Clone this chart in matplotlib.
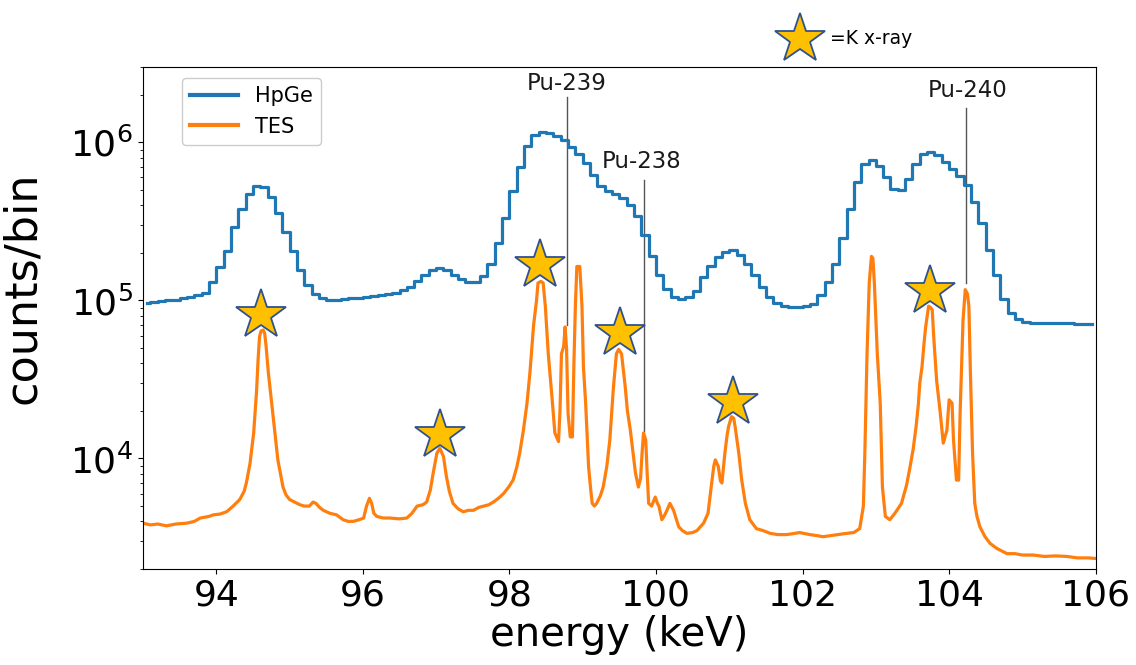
import matplotlib
matplotlib.use("Agg")
import matplotlib.pyplot as plt
from matplotlib.lines import Line2D
import numpy as np

BLUE = "#1f77b4"
ORANGE = "#ff7f0e"
STAR_FILL = "#FFC000"
STAR_EDGE = "#2F528F"

# HPGe spectrum: 0.1 keV bins starting at 93.0 keV
hpge_start = 93.0
hpge_bin = 0.1
hpge_counts = [
    9.7e4, 9.8e4, 9.9e4, 1.0e5, 1.01e5, 1.03e5, 1.05e5, 1.08e5, 1.12e5, 1.30e5,   # 93.0
    1.62e5, 2.05e5, 2.9e5, 3.8e5, 4.7e5, 5.3e5, 5.2e5, 4.5e5, 3.6e5, 2.7e5,       # 94.0
    2.05e5, 1.55e5, 1.25e5, 1.1e5, 1.03e5, 1.01e5, 1.01e5, 1.02e5, 1.03e5, 1.04e5,  # 95.0
    1.05e5, 1.06e5, 1.08e5, 1.10e5, 1.12e5, 1.16e5, 1.22e5, 1.32e5, 1.45e5, 1.55e5,  # 96.0
    1.60e5, 1.55e5, 1.45e5, 1.36e5, 1.31e5, 1.30e5, 1.42e5, 1.7e5, 2.3e5, 3.3e5,   # 97.0
    4.9e5, 7.0e5, 9.5e5, 1.12e6, 1.17e6, 1.15e6, 1.10e6, 1.03e6, 9.4e5, 8.5e5,     # 98.0
    7.4e5, 6.2e5, 5.3e5, 4.9e5, 4.7e5, 4.45e5, 4.0e5, 3.4e5, 2.6e5, 1.9e5,         # 99.0
    1.45e5, 1.18e5, 1.05e5, 1.02e5, 1.05e5, 1.15e5, 1.4e5, 1.65e5, 1.88e5, 2.03e5,  # 100.0
    2.07e5, 1.95e5, 1.7e5, 1.45e5, 1.22e5, 1.05e5, 9.6e4, 9.2e4, 9.1e4, 9.1e4,     # 101.0
    9.2e4, 9.5e4, 1.08e5, 1.3e5, 1.7e5, 2.5e5, 3.8e5, 5.6e5, 7.3e5, 7.7e5,         # 102.0
    7.1e5, 6.0e5, 5.1e5, 5.0e5, 5.9e5, 7.3e5, 8.4e5, 8.7e5, 8.3e5, 7.5e5,          # 103.0
    6.8e5, 6.1e5, 5.4e5, 4.2e5, 3.1e5, 2.1e5, 1.45e5, 1.02e5, 8.3e4, 7.6e4,        # 104.0
    7.35e4, 7.25e4, 7.2e4, 7.2e4, 7.15e4, 7.2e4, 7.15e4, 7.1e4, 7.1e4, 7.1e4,      # 105.0
]
hpge_energy = hpge_start + hpge_bin * (np.arange(len(hpge_counts)) + 0.5)

# TES spectrum (keV, counts/bin)
tes_energy = [
    93.00, 93.10, 93.20, 93.32, 93.45, 93.60, 93.70, 93.78, 93.90, 93.96,
    94.05, 94.14, 94.23, 94.32, 94.38, 94.41, 94.46, 94.51, 94.55, 94.57,
    94.59, 94.61, 94.64, 94.66, 94.68, 94.71, 94.75, 94.80, 94.84, 94.88,
    94.91, 94.95, 95.00, 95.07, 95.14, 95.20, 95.27, 95.32, 95.36, 95.41,
    95.46, 95.55, 95.64, 95.73, 95.80, 95.87, 95.95, 96.01, 96.05, 96.09,
    96.12, 96.15, 96.19, 96.28, 96.37, 96.50, 96.60, 96.67, 96.74, 96.82,
    96.87, 96.92, 96.96, 97.01, 97.05, 97.10, 97.14, 97.18, 97.23, 97.30,
    97.37, 97.44, 97.51, 97.58, 97.65, 97.72, 97.78, 97.85, 97.92, 97.99,
    98.05, 98.10, 98.14, 98.19, 98.24, 98.28, 98.33, 98.37, 98.39, 98.43,
    98.46, 98.49, 98.53, 98.58, 98.62, 98.67, 98.69, 98.71, 98.74, 98.76,
    98.78, 98.80, 98.83, 98.86, 98.88, 98.90, 98.92, 98.96, 98.99, 99.01,
    99.04, 99.06, 99.08, 99.11, 99.13, 99.16, 99.19, 99.24, 99.28, 99.33,
    99.37, 99.42, 99.46, 99.49, 99.53, 99.58, 99.61, 99.65, 99.69, 99.72,
    99.76, 99.79, 99.81, 99.83, 99.86, 99.88, 99.90, 99.94, 99.99, 100.02,
    100.04, 100.08, 100.12, 100.15, 100.19, 100.24, 100.28, 100.31, 100.36, 100.42,
    100.50, 100.56, 100.65, 100.71, 100.76, 100.79, 100.81, 100.85, 100.88, 100.90,
    100.94, 100.97, 100.99, 101.03, 101.06, 101.08, 101.13, 101.17, 101.22, 101.28,
    101.37, 101.46, 101.56, 101.66, 101.78, 101.88, 101.96, 102.03, 102.10, 102.20,
    102.28, 102.38, 102.47, 102.58, 102.70, 102.78, 102.83, 102.85, 102.88, 102.91,
    102.94, 102.96, 102.98, 103.02, 103.06, 103.09, 103.13, 103.19, 103.26, 103.30,
    103.35, 103.42, 103.47, 103.51, 103.55, 103.58, 103.60, 103.63, 103.66, 103.68,
    103.72, 103.75, 103.77, 103.79, 103.83, 103.88, 103.92, 103.97, 104.00, 104.04,
    104.06, 104.10, 104.13, 104.15, 104.19, 104.22, 104.25, 104.27, 104.29, 104.32,
    104.35, 104.38, 104.42, 104.49, 104.56, 104.65, 104.72, 104.79, 104.90, 105.00,
    105.15, 105.30, 105.45, 105.61, 105.75, 105.90, 106.00,
]
tes_counts = [
    3.9e3, 3.8e3, 3.85e3, 3.75e3, 3.85e3, 3.9e3, 4.0e3, 4.2e3, 4.3e3, 4.4e3,
    4.45e3, 4.6e3, 5.0e3, 5.5e3, 6.2e3, 7.0e3, 9.3e3, 1.45e4, 2.7e4, 4.2e4,
    5.9e4, 6.4e4, 6.5e4, 6.2e4, 5.1e4, 3.5e4, 2.35e4, 1.45e4, 9.8e3, 7.8e3,
    6.6e3, 5.9e3, 5.5e3, 5.3e3, 5.1e3, 5.0e3, 5.0e3, 5.3e3, 5.2e3, 4.9e3,
    4.7e3, 4.5e3, 4.4e3, 4.1e3, 4.0e3, 4.0e3, 4.1e3, 4.2e3, 5.0e3, 5.6e3,
    5.2e3, 4.5e3, 4.3e3, 4.2e3, 4.2e3, 4.15e3, 4.2e3, 4.5e3, 5.0e3, 5.1e3,
    5.3e3, 6.3e3, 8.1e3, 1.08e4, 1.16e4, 1.03e4, 7.7e3, 6.2e3, 5.2e3, 4.8e3,
    4.6e3, 4.7e3, 4.7e3, 4.9e3, 5.0e3, 5.1e3, 5.3e3, 5.6e3, 6.0e3, 6.6e3,
    7.3e3, 8.8e3, 1.08e4, 1.5e4, 2.24e4, 3.5e4, 7.0e4, 1.0e5, 1.29e5, 1.32e5,
    1.29e5, 9.2e4, 4.6e4, 2.47e4, 1.45e4, 1.28e4, 2.0e4, 4.6e4, 5.1e4, 6.8e4,
    4.9e4, 1.93e4, 1.37e4, 1.37e4, 4.0e4, 9.2e4, 1.64e5, 1.64e5, 9.2e4, 3.8e4,
    2.24e4, 1.4e4, 8.9e3, 6.3e3, 5.2e3, 5.0e3, 5.2e3, 5.8e3, 6.6e3, 9.0e3,
    1.31e4, 2.85e4, 4.6e4, 4.9e4, 4.6e4, 2.85e4, 2.0e4, 1.51e4, 1.05e4, 8.1e3,
    6.6e3, 7.5e3, 1.08e4, 1.45e4, 1.31e4, 8.0e3, 5.2e3, 5.0e3, 5.7e3, 5.2e3,
    5.0e3, 4.1e3, 4.4e3, 4.7e3, 5.2e3, 4.7e3, 4.1e3, 3.7e3, 3.5e3, 3.36e3,
    3.4e3, 3.5e3, 3.9e3, 4.5e3, 7.0e3, 9.0e3, 9.8e3, 8.9e3, 7.2e3, 7.0e3,
    1.08e4, 1.4e4, 1.59e4, 1.84e4, 1.8e4, 1.59e4, 1.08e4, 7.3e3, 5.2e3, 4.1e3,
    3.6e3, 3.5e3, 3.36e3, 3.3e3, 3.3e3, 3.35e3, 3.4e3, 3.35e3, 3.3e3, 3.25e3,
    3.2e3, 3.25e3, 3.3e3, 3.35e3, 3.4e3, 3.6e3, 5.0e3, 1.08e4, 4.6e4, 1.29e5,
    1.9e5, 1.85e5, 1.29e5, 4.6e4, 2.24e4, 6.6e3, 4.3e3, 4.1e3, 4.5e3, 4.8e3,
    5.2e3, 6.8e3, 9.0e3, 1.15e4, 1.6e4, 2.2e4, 3.0e4, 3.8e4, 5.5e4, 6.8e4,
    9.2e4, 9.0e4, 8.7e4, 5.9e4, 3.1e4, 1.93e4, 1.25e4, 1.51e4, 2.35e4, 2.24e4,
    1.31e4, 7.3e3, 7.3e3, 1.93e4, 7.5e4, 1.17e5, 1.1e5, 9.2e4, 3.6e4, 1.08e4,
    5.2e3, 4.3e3, 3.7e3, 3.2e3, 2.9e3, 2.7e3, 2.6e3, 2.5e3, 2.5e3, 2.45e3,
    2.45e3, 2.4e3, 2.42e3, 2.4e3, 2.35e3, 2.35e3, 2.33e3,
]

# K x-ray star markers (energy, counts)
kx_energy = [94.61, 97.05, 98.42, 99.51, 101.05, 103.74]
kx_counts = [8.1e4, 1.41e4, 1.68e5, 6.2e4, 2.29e4, 1.14e5]

# isotope annotations
iso_labels = ["Pu-239", "Pu-238", "Pu-240"]
iso_energy = [98.78, 99.83, 104.23]
iso_top = [1.95e6, 5.8e5, 1.66e6]
iso_bottom = [7.0e4, 1.5e4, 1.29e5]
iso_text_x = [98.78, 99.81, 104.25]
iso_text_y = [2.35e6, 7.6e5, 2.12e6]

fig = plt.figure(figsize=(11.36, 6.65), dpi=100)
ax = fig.add_axes([0.1259, 0.1444, 0.8386, 0.7549])

ax.step(hpge_energy, hpge_counts, where="mid", color=BLUE, lw=2.3, label="HpGe")
ax.plot(tes_energy, tes_counts, color=ORANGE, lw=2.3, label="TES")

for e, top, bot in zip(iso_energy, iso_top, iso_bottom):
    ax.plot([e, e], [bot, top], color="#555555", lw=1.0, zorder=1.5)
for lab, x, y in zip(iso_labels, iso_text_x, iso_text_y):
    ax.text(x, y, lab, ha="center", va="center", fontsize=16.5, color="#1a1a1a")

ax.plot(kx_energy, kx_counts, ls="none", marker="*", ms=38,
        mfc=STAR_FILL, mec=STAR_EDGE, mew=1.3, zorder=5)

ax.set_yscale("log")
ax.set_xlim(93, 106)
ax.set_ylim(2e3, 3e6)
ax.set_xticks([94, 96, 98, 100, 102, 104, 106])
ax.tick_params(axis="both", which="major", labelsize=26)
ax.set_xlabel("energy (keV)", fontsize=29, labelpad=2)
ax.set_ylabel("counts/bin", fontsize=32)
ax.yaxis.set_label_coords(-0.104, 0.56)

leg = ax.legend(loc="upper left", bbox_to_anchor=(0.041, 0.978), borderaxespad=0,
                fontsize=15, handlelength=2.3, framealpha=1.0)
for line in leg.get_lines():
    line.set_linewidth(3)

# star key above the plot
fig.lines.append(Line2D([800 / 1136], [1 - 39 / 665], marker="*", ms=38,
                        mfc=STAR_FILL, mec=STAR_EDGE, mew=1.3,
                        transform=fig.transFigure))
fig.text(830 / 1136, 1 - 38 / 665, "=K x-ray", fontsize=13.5, va="center", ha="left")

fig.savefig("out.png", dpi=100)
